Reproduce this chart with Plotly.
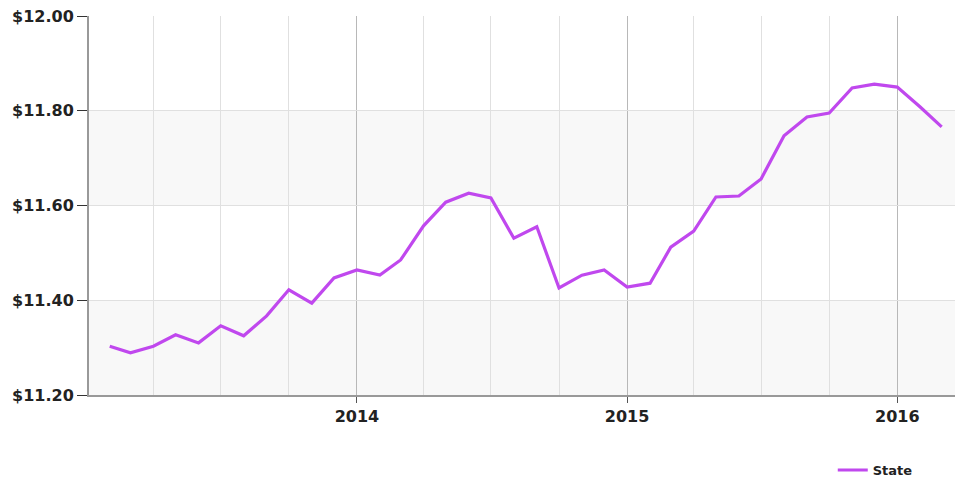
import plotly.graph_objects as go

months = [
    "2013-02-01", "2013-03-01", "2013-04-01", "2013-05-01", "2013-06-01", "2013-07-01",
    "2013-08-01", "2013-09-01", "2013-10-01", "2013-11-01", "2013-12-01", "2014-01-01",
    "2014-02-01", "2014-03-01", "2014-04-01", "2014-05-01", "2014-06-01", "2014-07-01",
    "2014-08-01", "2014-09-01", "2014-10-01", "2014-11-01", "2014-12-01", "2015-01-01",
    "2015-02-01", "2015-03-01", "2015-04-01", "2015-05-01", "2015-06-01", "2015-07-01",
    "2015-08-01", "2015-09-01", "2015-10-01", "2015-11-01", "2015-12-01", "2016-01-01",
    "2016-02-01", "2016-03-01",
]
state = [
    11.303, 11.289, 11.303, 11.327, 11.310, 11.346,
    11.325, 11.367, 11.422, 11.394, 11.447, 11.464,
    11.453, 11.485, 11.557, 11.607, 11.626, 11.616,
    11.531, 11.555, 11.426, 11.453, 11.464, 11.428,
    11.436, 11.512, 11.546, 11.618, 11.620, 11.656,
    11.747, 11.787, 11.795, 11.848, 11.856, 11.850,
    11.808, 11.766,
]
series_name = "State"
y_range = [11.2, 12.0]
shaded_bands = [(11.2, 11.4), (11.6, 11.8)]
x_range = ["2013-01-04", "2016-03-19"]

FONT = "DejaVu Sans"

fig = go.Figure()
fig.add_trace(go.Scatter(
    x=months, y=state, mode="lines", name=series_name,
    line=dict(color="#c048ee", width=3.2),
    showlegend=True,
))

for y0, y1 in shaded_bands:
    fig.add_shape(type="rect", xref="paper", yref="y", x0=0, x1=1, y0=y0, y1=y1,
                  fillcolor="#f8f8f8", line=dict(width=0), layer="below")

fig.update_layout(
    width=955, height=481,
    margin=dict(l=89, r=0, t=16, b=86, autoexpand=False),
    paper_bgcolor="white", plot_bgcolor="white",
    font=dict(family=FONT, color="#222222"),
    showlegend=True,
    legend=dict(orientation="h", x=0.957, xanchor="right", y=-0.198, yanchor="middle",
                font=dict(family=FONT, size=13, color="#222222", weight="bold"),
                bgcolor="rgba(0,0,0,0)"),
    xaxis=dict(
        type="date", range=x_range,
        tick0="2014-01-01", dtick="M12", tickformat="%Y",
        showgrid=True, gridcolor="#b8b8b8", gridwidth=1,
        minor=dict(dtick="M3", tick0="2014-01-01", showgrid=True, gridcolor="#e0e0e0", gridwidth=1, ticks=""),
        ticks="outside", ticklen=6, tickcolor="#555555",
        showline=True, linecolor="#999999", linewidth=2,
        tickfont=dict(family=FONT, size=16, color="#222222", weight="bold"),
        zeroline=False,
    ),
    yaxis=dict(
        range=y_range, dtick=0.2, tick0=11.2, tickprefix="$", tickformat=".2f",
        showgrid=True, gridcolor="#e0e0e0", gridwidth=1,
        ticks="outside", ticklen=10, tickcolor="#333333",
        showline=True, linecolor="#999999", linewidth=2,
        tickfont=dict(family=FONT, size=16, color="#222222", weight="bold"),
        zeroline=False,
    ),
)

fig.write_html("out.html", config={"displayModeBar": False},
               post_script="document.body.style.margin='0';")
